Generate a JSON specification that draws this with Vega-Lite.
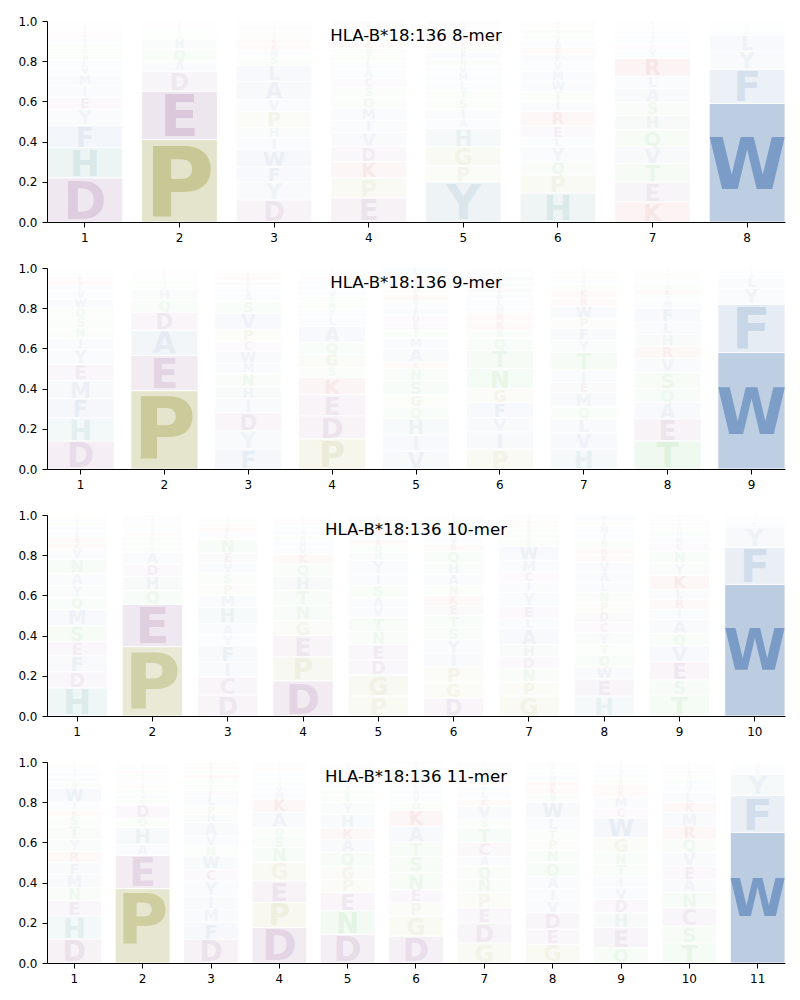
{
"$schema": "https://vega.github.io/schema/vega-lite/v6.json",
"padding": {"left": 17, "top": 15, "right": 5, "bottom": 5},
"bounds": "flush",
"spacing": 46,
"config": {
 "view": {"stroke": null},
 "axis": {"domainColor": "black", "tickColor": "black", "labelColor": "black", "labelFont": "DejaVu Sans", "labelFontSize": 12, "tickSize": 5, "labelPadding": 5, "grid": false, "domainWidth": 1, "tickWidth": 1, "zindex": 2},
 "title": {"font": "DejaVu Sans", "fontSize": 16.6, "fontWeight": "normal", "color": "black", "anchor": "middle", "frame": "group", "offset": -30, "baseline": "alphabetic"}
},
"data": {"values": [
{"n":8,"p":1,"a":"D","f":0.22},{"n":8,"p":1,"a":"H","f":0.15},{"n":8,"p":1,"a":"F","f":0.11},{"n":8,"p":1,"a":"Y","f":0.08},{"n":8,"p":1,"a":"E","f":0.06},{"n":8,"p":1,"a":"I","f":0.06},{"n":8,"p":1,"a":"M","f":0.05},{"n":8,"p":1,"a":"V","f":0.04},{"n":8,"p":1,"a":"L","f":0.035},{"n":8,"p":1,"a":"N","f":0.03},{"n":8,"p":1,"a":"S","f":0.03},{"n":8,"p":1,"a":"Q","f":0.025},{"n":8,"p":1,"a":"A","f":0.025},{"n":8,"p":1,"a":"K","f":0.02},{"n":8,"p":1,"a":"R","f":0.015},{"n":8,"p":1,"a":"T","f":0.015},{"n":8,"p":1,"a":"W","f":0.01},{"n":8,"p":1,"a":"G","f":0.01},{"n":8,"p":1,"a":"P","f":0.01},{"n":8,"p":1,"a":"C","f":0.005},
{"n":8,"p":2,"a":"P","f":0.41},{"n":8,"p":2,"a":"E","f":0.24},{"n":8,"p":2,"a":"D","f":0.10},{"n":8,"p":2,"a":"A","f":0.05},{"n":8,"p":2,"a":"Q","f":0.06},{"n":8,"p":2,"a":"H","f":0.05},{"n":8,"p":2,"a":"S","f":0.02},{"n":8,"p":2,"a":"T","f":0.015},{"n":8,"p":2,"a":"V","f":0.015},{"n":8,"p":2,"a":"L","f":0.01},{"n":8,"p":2,"a":"K","f":0.01},{"n":8,"p":2,"a":"G","f":0.01},{"n":8,"p":2,"a":"N","f":0.01},
{"n":8,"p":3,"a":"D","f":0.11},{"n":8,"p":3,"a":"Y","f":0.09},{"n":8,"p":3,"a":"F","f":0.075},{"n":8,"p":3,"a":"W","f":0.085},{"n":8,"p":3,"a":"I","f":0.06},{"n":8,"p":3,"a":"H","f":0.05},{"n":8,"p":3,"a":"P","f":0.08},{"n":8,"p":3,"a":"V","f":0.06},{"n":8,"p":3,"a":"A","f":0.09},{"n":8,"p":3,"a":"L","f":0.08},{"n":8,"p":3,"a":"S","f":0.04},{"n":8,"p":3,"a":"M","f":0.035},{"n":8,"p":3,"a":"K","f":0.03},{"n":8,"p":3,"a":"R","f":0.025},{"n":8,"p":3,"a":"Q","f":0.02},{"n":8,"p":3,"a":"G","f":0.02},{"n":8,"p":3,"a":"T","f":0.015},{"n":8,"p":3,"a":"E","f":0.015},{"n":8,"p":3,"a":"N","f":0.01},{"n":8,"p":3,"a":"C","f":0.01},
{"n":8,"p":4,"a":"E","f":0.12},{"n":8,"p":4,"a":"P","f":0.10},{"n":8,"p":4,"a":"K","f":0.08},{"n":8,"p":4,"a":"D","f":0.075},{"n":8,"p":4,"a":"V","f":0.07},{"n":8,"p":4,"a":"I","f":0.06},{"n":8,"p":4,"a":"M","f":0.06},{"n":8,"p":4,"a":"Q","f":0.055},{"n":8,"p":4,"a":"S","f":0.05},{"n":8,"p":4,"a":"C","f":0.045},{"n":8,"p":4,"a":"A","f":0.045},{"n":8,"p":4,"a":"L","f":0.04},{"n":8,"p":4,"a":"T","f":0.035},{"n":8,"p":4,"a":"N","f":0.03},{"n":8,"p":4,"a":"R","f":0.03},{"n":8,"p":4,"a":"H","f":0.025},{"n":8,"p":4,"a":"G","f":0.025},{"n":8,"p":4,"a":"Y","f":0.02},{"n":8,"p":4,"a":"F","f":0.02},{"n":8,"p":4,"a":"W","f":0.015},
{"n":8,"p":5,"a":"Y","f":0.20},{"n":8,"p":5,"a":"P","f":0.08},{"n":8,"p":5,"a":"G","f":0.095},{"n":8,"p":5,"a":"H","f":0.09},{"n":8,"p":5,"a":"A","f":0.045},{"n":8,"p":5,"a":"I","f":0.05},{"n":8,"p":5,"a":"S","f":0.05},{"n":8,"p":5,"a":"T","f":0.045},{"n":8,"p":5,"a":"L","f":0.045},{"n":8,"p":5,"a":"M","f":0.04},{"n":8,"p":5,"a":"V","f":0.035},{"n":8,"p":5,"a":"N","f":0.035},{"n":8,"p":5,"a":"F","f":0.035},{"n":8,"p":5,"a":"Q","f":0.03},{"n":8,"p":5,"a":"K","f":0.025},{"n":8,"p":5,"a":"R","f":0.025},{"n":8,"p":5,"a":"E","f":0.02},{"n":8,"p":5,"a":"D","f":0.02},{"n":8,"p":5,"a":"W","f":0.015},{"n":8,"p":5,"a":"C","f":0.02},
{"n":8,"p":6,"a":"H","f":0.145},{"n":8,"p":6,"a":"P","f":0.09},{"n":8,"p":6,"a":"Q","f":0.065},{"n":8,"p":6,"a":"Y","f":0.075},{"n":8,"p":6,"a":"L","f":0.045},{"n":8,"p":6,"a":"E","f":0.06},{"n":8,"p":6,"a":"R","f":0.07},{"n":8,"p":6,"a":"I","f":0.05},{"n":8,"p":6,"a":"T","f":0.05},{"n":8,"p":6,"a":"W","f":0.05},{"n":8,"p":6,"a":"M","f":0.05},{"n":8,"p":6,"a":"V","f":0.045},{"n":8,"p":6,"a":"F","f":0.04},{"n":8,"p":6,"a":"K","f":0.035},{"n":8,"p":6,"a":"A","f":0.035},{"n":8,"p":6,"a":"S","f":0.03},{"n":8,"p":6,"a":"N","f":0.025},{"n":8,"p":6,"a":"G","f":0.02},{"n":8,"p":6,"a":"D","f":0.015},{"n":8,"p":6,"a":"C","f":0.005},
{"n":8,"p":7,"a":"K","f":0.10},{"n":8,"p":7,"a":"E","f":0.10},{"n":8,"p":7,"a":"T","f":0.09},{"n":8,"p":7,"a":"V","f":0.085},{"n":8,"p":7,"a":"Q","f":0.085},{"n":8,"p":7,"a":"H","f":0.07},{"n":8,"p":7,"a":"S","f":0.065},{"n":8,"p":7,"a":"A","f":0.07},{"n":8,"p":7,"a":"L","f":0.06},{"n":8,"p":7,"a":"R","f":0.09},{"n":8,"p":7,"a":"Y","f":0.04},{"n":8,"p":7,"a":"C","f":0.03},{"n":8,"p":7,"a":"F","f":0.025},{"n":8,"p":7,"a":"M","f":0.02},{"n":8,"p":7,"a":"I","f":0.02},{"n":8,"p":7,"a":"N","f":0.015},{"n":8,"p":7,"a":"W","f":0.01},{"n":8,"p":7,"a":"G","f":0.01},{"n":8,"p":7,"a":"D","f":0.01},{"n":8,"p":7,"a":"P","f":0.005},
{"n":8,"p":8,"a":"W","f":0.59},{"n":8,"p":8,"a":"F","f":0.17},{"n":8,"p":8,"a":"Y","f":0.09},{"n":8,"p":8,"a":"L","f":0.08},{"n":8,"p":8,"a":"M","f":0.02},{"n":8,"p":8,"a":"I","f":0.015},{"n":8,"p":8,"a":"V","f":0.01},{"n":8,"p":8,"a":"H","f":0.01},{"n":8,"p":8,"a":"A","f":0.01},{"n":8,"p":8,"a":"C","f":0.005},
{"n":9,"p":1,"a":"D","f":0.14},{"n":9,"p":1,"a":"H","f":0.115},{"n":9,"p":1,"a":"F","f":0.095},{"n":9,"p":1,"a":"M","f":0.09},{"n":9,"p":1,"a":"E","f":0.08},{"n":9,"p":1,"a":"Y","f":0.075},{"n":9,"p":1,"a":"I","f":0.055},{"n":9,"p":1,"a":"N","f":0.05},{"n":9,"p":1,"a":"S","f":0.05},{"n":9,"p":1,"a":"Q","f":0.05},{"n":9,"p":1,"a":"W","f":0.045},{"n":9,"p":1,"a":"V","f":0.04},{"n":9,"p":1,"a":"L","f":0.03},{"n":9,"p":1,"a":"K","f":0.025},{"n":9,"p":1,"a":"R","f":0.02},{"n":9,"p":1,"a":"A","f":0.015},{"n":9,"p":1,"a":"T","f":0.01},{"n":9,"p":1,"a":"G","f":0.005},{"n":9,"p":1,"a":"P","f":0.005},{"n":9,"p":1,"a":"C","f":0.005},
{"n":9,"p":2,"a":"P","f":0.39},{"n":9,"p":2,"a":"E","f":0.175},{"n":9,"p":2,"a":"A","f":0.125},{"n":9,"p":2,"a":"D","f":0.09},{"n":9,"p":2,"a":"Q","f":0.06},{"n":9,"p":2,"a":"H","f":0.055},{"n":9,"p":2,"a":"S","f":0.02},{"n":9,"p":2,"a":"T","f":0.02},{"n":9,"p":2,"a":"V","f":0.015},{"n":9,"p":2,"a":"L","f":0.015},{"n":9,"p":2,"a":"K","f":0.01},{"n":9,"p":2,"a":"G","f":0.01},{"n":9,"p":2,"a":"N","f":0.01},{"n":9,"p":2,"a":"Y","f":0.005},
{"n":9,"p":3,"a":"F","f":0.10},{"n":9,"p":3,"a":"Y","f":0.09},{"n":9,"p":3,"a":"D","f":0.09},{"n":9,"p":3,"a":"I","f":0.07},{"n":9,"p":3,"a":"H","f":0.06},{"n":9,"p":3,"a":"N","f":0.065},{"n":9,"p":3,"a":"M","f":0.05},{"n":9,"p":3,"a":"W","f":0.06},{"n":9,"p":3,"a":"C","f":0.05},{"n":9,"p":3,"a":"P","f":0.06},{"n":9,"p":3,"a":"V","f":0.08},{"n":9,"p":3,"a":"S","f":0.06},{"n":9,"p":3,"a":"A","f":0.04},{"n":9,"p":3,"a":"L","f":0.035},{"n":9,"p":3,"a":"E","f":0.025},{"n":9,"p":3,"a":"K","f":0.025},{"n":9,"p":3,"a":"R","f":0.02},{"n":9,"p":3,"a":"G","f":0.01},{"n":9,"p":3,"a":"T","f":0.005},{"n":9,"p":3,"a":"Q","f":0.005},
{"n":9,"p":4,"a":"P","f":0.15},{"n":9,"p":4,"a":"D","f":0.115},{"n":9,"p":4,"a":"E","f":0.105},{"n":9,"p":4,"a":"K","f":0.085},{"n":9,"p":4,"a":"S","f":0.05},{"n":9,"p":4,"a":"G","f":0.065},{"n":9,"p":4,"a":"Q","f":0.06},{"n":9,"p":4,"a":"A","f":0.08},{"n":9,"p":4,"a":"L","f":0.045},{"n":9,"p":4,"a":"Y","f":0.04},{"n":9,"p":4,"a":"N","f":0.035},{"n":9,"p":4,"a":"T","f":0.03},{"n":9,"p":4,"a":"V","f":0.03},{"n":9,"p":4,"a":"H","f":0.025},{"n":9,"p":4,"a":"M","f":0.025},{"n":9,"p":4,"a":"R","f":0.02},{"n":9,"p":4,"a":"F","f":0.015},{"n":9,"p":4,"a":"I","f":0.01},{"n":9,"p":4,"a":"W","f":0.01},{"n":9,"p":4,"a":"C","f":0.005},
{"n":9,"p":5,"a":"V","f":0.09},{"n":9,"p":5,"a":"I","f":0.08},{"n":9,"p":5,"a":"H","f":0.08},{"n":9,"p":5,"a":"Q","f":0.06},{"n":9,"p":5,"a":"G","f":0.06},{"n":9,"p":5,"a":"S","f":0.07},{"n":9,"p":5,"a":"N","f":0.06},{"n":9,"p":5,"a":"K","f":0.03},{"n":9,"p":5,"a":"A","f":0.07},{"n":9,"p":5,"a":"M","f":0.05},{"n":9,"p":5,"a":"T","f":0.04},{"n":9,"p":5,"a":"E","f":0.04},{"n":9,"p":5,"a":"D","f":0.035},{"n":9,"p":5,"a":"F","f":0.035},{"n":9,"p":5,"a":"Y","f":0.035},{"n":9,"p":5,"a":"R","f":0.035},{"n":9,"p":5,"a":"P","f":0.035},{"n":9,"p":5,"a":"W","f":0.03},{"n":9,"p":5,"a":"C","f":0.025},{"n":9,"p":5,"a":"L","f":0.04},
{"n":9,"p":6,"a":"P","f":0.10},{"n":9,"p":6,"a":"I","f":0.085},{"n":9,"p":6,"a":"V","f":0.07},{"n":9,"p":6,"a":"F","f":0.075},{"n":9,"p":6,"a":"G","f":0.07},{"n":9,"p":6,"a":"N","f":0.10},{"n":9,"p":6,"a":"T","f":0.09},{"n":9,"p":6,"a":"Q","f":0.06},{"n":9,"p":6,"a":"S","f":0.04},{"n":9,"p":6,"a":"K","f":0.045},{"n":9,"p":6,"a":"R","f":0.04},{"n":9,"p":6,"a":"M","f":0.035},{"n":9,"p":6,"a":"L","f":0.035},{"n":9,"p":6,"a":"A","f":0.03},{"n":9,"p":6,"a":"E","f":0.03},{"n":9,"p":6,"a":"H","f":0.03},{"n":9,"p":6,"a":"D","f":0.025},{"n":9,"p":6,"a":"Y","f":0.02},{"n":9,"p":6,"a":"W","f":0.01},{"n":9,"p":6,"a":"C","f":0.01},
{"n":9,"p":7,"a":"H","f":0.10},{"n":9,"p":7,"a":"V","f":0.08},{"n":9,"p":7,"a":"L","f":0.07},{"n":9,"p":7,"a":"Q","f":0.06},{"n":9,"p":7,"a":"M","f":0.07},{"n":9,"p":7,"a":"E","f":0.05},{"n":9,"p":7,"a":"I","f":0.06},{"n":9,"p":7,"a":"T","f":0.09},{"n":9,"p":7,"a":"Y","f":0.06},{"n":9,"p":7,"a":"F","f":0.06},{"n":9,"p":7,"a":"P","f":0.05},{"n":9,"p":7,"a":"W","f":0.06},{"n":9,"p":7,"a":"R","f":0.04},{"n":9,"p":7,"a":"K","f":0.04},{"n":9,"p":7,"a":"S","f":0.03},{"n":9,"p":7,"a":"A","f":0.025},{"n":9,"p":7,"a":"N","f":0.02},{"n":9,"p":7,"a":"G","f":0.02},{"n":9,"p":7,"a":"D","f":0.01},{"n":9,"p":7,"a":"C","f":0.005},
{"n":9,"p":8,"a":"T","f":0.14},{"n":9,"p":8,"a":"E","f":0.11},{"n":9,"p":8,"a":"A","f":0.08},{"n":9,"p":8,"a":"Q","f":0.07},{"n":9,"p":8,"a":"S","f":0.08},{"n":9,"p":8,"a":"V","f":0.07},{"n":9,"p":8,"a":"R","f":0.06},{"n":9,"p":8,"a":"H","f":0.06},{"n":9,"p":8,"a":"L","f":0.06},{"n":9,"p":8,"a":"F","f":0.07},{"n":9,"p":8,"a":"M","f":0.035},{"n":9,"p":8,"a":"Y","f":0.03},{"n":9,"p":8,"a":"K","f":0.03},{"n":9,"p":8,"a":"N","f":0.025},{"n":9,"p":8,"a":"I","f":0.02},{"n":9,"p":8,"a":"G","f":0.02},{"n":9,"p":8,"a":"D","f":0.015},{"n":9,"p":8,"a":"P","f":0.01},{"n":9,"p":8,"a":"W","f":0.01},{"n":9,"p":8,"a":"C","f":0.005},
{"n":9,"p":9,"a":"W","f":0.58},{"n":9,"p":9,"a":"F","f":0.24},{"n":9,"p":9,"a":"Y","f":0.08},{"n":9,"p":9,"a":"L","f":0.05},{"n":9,"p":9,"a":"M","f":0.02},{"n":9,"p":9,"a":"I","f":0.015},{"n":9,"p":9,"a":"V","f":0.01},{"n":9,"p":9,"a":"H","f":0.005},
{"n":10,"p":1,"a":"H","f":0.14},{"n":10,"p":1,"a":"D","f":0.08},{"n":10,"p":1,"a":"F","f":0.08},{"n":10,"p":1,"a":"E","f":0.07},{"n":10,"p":1,"a":"S","f":0.08},{"n":10,"p":1,"a":"M","f":0.08},{"n":10,"p":1,"a":"Q","f":0.06},{"n":10,"p":1,"a":"Y","f":0.06},{"n":10,"p":1,"a":"A","f":0.06},{"n":10,"p":1,"a":"N","f":0.07},{"n":10,"p":1,"a":"V","f":0.05},{"n":10,"p":1,"a":"K","f":0.03},{"n":10,"p":1,"a":"R","f":0.03},{"n":10,"p":1,"a":"L","f":0.03},{"n":10,"p":1,"a":"I","f":0.025},{"n":10,"p":1,"a":"T","f":0.02},{"n":10,"p":1,"a":"W","f":0.015},{"n":10,"p":1,"a":"G","f":0.01},{"n":10,"p":1,"a":"P","f":0.01},
{"n":10,"p":2,"a":"P","f":0.345},{"n":10,"p":2,"a":"E","f":0.21},{"n":10,"p":2,"a":"Q","f":0.07},{"n":10,"p":2,"a":"H","f":0.07},{"n":10,"p":2,"a":"D","f":0.06},{"n":10,"p":2,"a":"A","f":0.06},{"n":10,"p":2,"a":"S","f":0.03},{"n":10,"p":2,"a":"T","f":0.025},{"n":10,"p":2,"a":"N","f":0.025},{"n":10,"p":2,"a":"K","f":0.02},{"n":10,"p":2,"a":"V","f":0.02},{"n":10,"p":2,"a":"G","f":0.02},{"n":10,"p":2,"a":"L","f":0.015},{"n":10,"p":2,"a":"R","f":0.015},{"n":10,"p":2,"a":"Y","f":0.015},
{"n":10,"p":3,"a":"D","f":0.105},{"n":10,"p":3,"a":"C","f":0.09},{"n":10,"p":3,"a":"I","f":0.075},{"n":10,"p":3,"a":"F","f":0.08},{"n":10,"p":3,"a":"Y","f":0.055},{"n":10,"p":3,"a":"A","f":0.055},{"n":10,"p":3,"a":"H","f":0.08},{"n":10,"p":3,"a":"M","f":0.06},{"n":10,"p":3,"a":"P","f":0.055},{"n":10,"p":3,"a":"S","f":0.055},{"n":10,"p":3,"a":"V","f":0.05},{"n":10,"p":3,"a":"E","f":0.05},{"n":10,"p":3,"a":"N","f":0.07},{"n":10,"p":3,"a":"L","f":0.035},{"n":10,"p":3,"a":"K","f":0.025},{"n":10,"p":3,"a":"R","f":0.02},{"n":10,"p":3,"a":"T","f":0.02},{"n":10,"p":3,"a":"G","f":0.01},{"n":10,"p":3,"a":"Q","f":0.005},{"n":10,"p":3,"a":"W","f":0.005},
{"n":10,"p":4,"a":"D","f":0.175},{"n":10,"p":4,"a":"P","f":0.12},{"n":10,"p":4,"a":"E","f":0.105},{"n":10,"p":4,"a":"G","f":0.075},{"n":10,"p":4,"a":"N","f":0.075},{"n":10,"p":4,"a":"T","f":0.075},{"n":10,"p":4,"a":"H","f":0.07},{"n":10,"p":4,"a":"Q","f":0.06},{"n":10,"p":4,"a":"K","f":0.05},{"n":10,"p":4,"a":"V","f":0.035},{"n":10,"p":4,"a":"M","f":0.03},{"n":10,"p":4,"a":"S","f":0.03},{"n":10,"p":4,"a":"A","f":0.025},{"n":10,"p":4,"a":"L","f":0.02},{"n":10,"p":4,"a":"Y","f":0.02},{"n":10,"p":4,"a":"R","f":0.015},{"n":10,"p":4,"a":"I","f":0.01},{"n":10,"p":4,"a":"F","f":0.005},{"n":10,"p":4,"a":"W","f":0.005},
{"n":10,"p":5,"a":"P","f":0.10},{"n":10,"p":5,"a":"G","f":0.105},{"n":10,"p":5,"a":"D","f":0.075},{"n":10,"p":5,"a":"E","f":0.075},{"n":10,"p":5,"a":"N","f":0.065},{"n":10,"p":5,"a":"T","f":0.07},{"n":10,"p":5,"a":"V","f":0.05},{"n":10,"p":5,"a":"A","f":0.05},{"n":10,"p":5,"a":"S","f":0.06},{"n":10,"p":5,"a":"I","f":0.055},{"n":10,"p":5,"a":"Y","f":0.07},{"n":10,"p":5,"a":"H","f":0.04},{"n":10,"p":5,"a":"Q","f":0.035},{"n":10,"p":5,"a":"K","f":0.03},{"n":10,"p":5,"a":"L","f":0.03},{"n":10,"p":5,"a":"R","f":0.025},{"n":10,"p":5,"a":"M","f":0.02},{"n":10,"p":5,"a":"F","f":0.02},{"n":10,"p":5,"a":"W","f":0.015},{"n":10,"p":5,"a":"C","f":0.01},
{"n":10,"p":6,"a":"D","f":0.09},{"n":10,"p":6,"a":"G","f":0.075},{"n":10,"p":6,"a":"P","f":0.08},{"n":10,"p":6,"a":"I","f":0.065},{"n":10,"p":6,"a":"Y","f":0.07},{"n":10,"p":6,"a":"S","f":0.06},{"n":10,"p":6,"a":"T","f":0.06},{"n":10,"p":6,"a":"E","f":0.05},{"n":10,"p":6,"a":"K","f":0.05},{"n":10,"p":6,"a":"N","f":0.05},{"n":10,"p":6,"a":"A","f":0.055},{"n":10,"p":6,"a":"H","f":0.055},{"n":10,"p":6,"a":"Q","f":0.06},{"n":10,"p":6,"a":"R","f":0.035},{"n":10,"p":6,"a":"V","f":0.035},{"n":10,"p":6,"a":"L","f":0.03},{"n":10,"p":6,"a":"M","f":0.03},{"n":10,"p":6,"a":"F","f":0.025},{"n":10,"p":6,"a":"W","f":0.015},{"n":10,"p":6,"a":"C","f":0.01},
{"n":10,"p":7,"a":"G","f":0.10},{"n":10,"p":7,"a":"P","f":0.07},{"n":10,"p":7,"a":"N","f":0.065},{"n":10,"p":7,"a":"D","f":0.06},{"n":10,"p":7,"a":"H","f":0.06},{"n":10,"p":7,"a":"A","f":0.08},{"n":10,"p":7,"a":"L","f":0.05},{"n":10,"p":7,"a":"E","f":0.06},{"n":10,"p":7,"a":"Y","f":0.07},{"n":10,"p":7,"a":"I","f":0.05},{"n":10,"p":7,"a":"C","f":0.05},{"n":10,"p":7,"a":"M","f":0.06},{"n":10,"p":7,"a":"W","f":0.07},{"n":10,"p":7,"a":"S","f":0.035},{"n":10,"p":7,"a":"T","f":0.03},{"n":10,"p":7,"a":"Q","f":0.025},{"n":10,"p":7,"a":"K","f":0.02},{"n":10,"p":7,"a":"R","f":0.02},{"n":10,"p":7,"a":"V","f":0.015},{"n":10,"p":7,"a":"F","f":0.01},
{"n":10,"p":8,"a":"H","f":0.10},{"n":10,"p":8,"a":"E","f":0.085},{"n":10,"p":8,"a":"W","f":0.06},{"n":10,"p":8,"a":"Q","f":0.06},{"n":10,"p":8,"a":"T","f":0.05},{"n":10,"p":8,"a":"Y","f":0.06},{"n":10,"p":8,"a":"C","f":0.05},{"n":10,"p":8,"a":"D","f":0.05},{"n":10,"p":8,"a":"P","f":0.05},{"n":10,"p":8,"a":"N","f":0.05},{"n":10,"p":8,"a":"L","f":0.05},{"n":10,"p":8,"a":"A","f":0.05},{"n":10,"p":8,"a":"V","f":0.05},{"n":10,"p":8,"a":"K","f":0.035},{"n":10,"p":8,"a":"R","f":0.035},{"n":10,"p":8,"a":"S","f":0.04},{"n":10,"p":8,"a":"I","f":0.035},{"n":10,"p":8,"a":"M","f":0.035},{"n":10,"p":8,"a":"G","f":0.025},{"n":10,"p":8,"a":"F","f":0.03},
{"n":10,"p":9,"a":"T","f":0.105},{"n":10,"p":9,"a":"S","f":0.075},{"n":10,"p":9,"a":"E","f":0.09},{"n":10,"p":9,"a":"V","f":0.08},{"n":10,"p":9,"a":"Q","f":0.06},{"n":10,"p":9,"a":"A","f":0.07},{"n":10,"p":9,"a":"I","f":0.05},{"n":10,"p":9,"a":"R","f":0.05},{"n":10,"p":9,"a":"L","f":0.05},{"n":10,"p":9,"a":"K","f":0.07},{"n":10,"p":9,"a":"Y","f":0.06},{"n":10,"p":9,"a":"N","f":0.06},{"n":10,"p":9,"a":"C","f":0.04},{"n":10,"p":9,"a":"M","f":0.03},{"n":10,"p":9,"a":"H","f":0.03},{"n":10,"p":9,"a":"G","f":0.025},{"n":10,"p":9,"a":"D","f":0.02},{"n":10,"p":9,"a":"F","f":0.015},{"n":10,"p":9,"a":"P","f":0.01},{"n":10,"p":9,"a":"W","f":0.01},
{"n":10,"p":10,"a":"W","f":0.655},{"n":10,"p":10,"a":"F","f":0.185},{"n":10,"p":10,"a":"Y","f":0.10},{"n":10,"p":10,"a":"L","f":0.03},{"n":10,"p":10,"a":"M","f":0.015},{"n":10,"p":10,"a":"I","f":0.01},{"n":10,"p":10,"a":"V","f":0.005},
{"n":11,"p":1,"a":"D","f":0.12},{"n":11,"p":1,"a":"H","f":0.115},{"n":11,"p":1,"a":"E","f":0.075},{"n":11,"p":1,"a":"N","f":0.065},{"n":11,"p":1,"a":"M","f":0.065},{"n":11,"p":1,"a":"F","f":0.06},{"n":11,"p":1,"a":"R","f":0.055},{"n":11,"p":1,"a":"Y","f":0.06},{"n":11,"p":1,"a":"T","f":0.065},{"n":11,"p":1,"a":"S","f":0.05},{"n":11,"p":1,"a":"K","f":0.03},{"n":11,"p":1,"a":"I","f":0.04},{"n":11,"p":1,"a":"W","f":0.07},{"n":11,"p":1,"a":"Q","f":0.03},{"n":11,"p":1,"a":"L","f":0.025},{"n":11,"p":1,"a":"V","f":0.025},{"n":11,"p":1,"a":"A","f":0.02},{"n":11,"p":1,"a":"G","f":0.015},{"n":11,"p":1,"a":"P","f":0.01},{"n":11,"p":1,"a":"C","f":0.005},
{"n":11,"p":2,"a":"P","f":0.37},{"n":11,"p":2,"a":"E","f":0.165},{"n":11,"p":2,"a":"A","f":0.055},{"n":11,"p":2,"a":"H","f":0.085},{"n":11,"p":2,"a":"Q","f":0.045},{"n":11,"p":2,"a":"D","f":0.065},{"n":11,"p":2,"a":"S","f":0.03},{"n":11,"p":2,"a":"V","f":0.025},{"n":11,"p":2,"a":"T","f":0.025},{"n":11,"p":2,"a":"K","f":0.02},{"n":11,"p":2,"a":"L","f":0.02},{"n":11,"p":2,"a":"G","f":0.02},{"n":11,"p":2,"a":"N","f":0.02},{"n":11,"p":2,"a":"R","f":0.015},{"n":11,"p":2,"a":"Y","f":0.015},{"n":11,"p":2,"a":"M","f":0.01},{"n":11,"p":2,"a":"I","f":0.01},{"n":11,"p":2,"a":"F","f":0.005},
{"n":11,"p":3,"a":"D","f":0.118},{"n":11,"p":3,"a":"F","f":0.083},{"n":11,"p":3,"a":"M","f":0.066},{"n":11,"p":3,"a":"I","f":0.066},{"n":11,"p":3,"a":"Y","f":0.075},{"n":11,"p":3,"a":"C","f":0.058},{"n":11,"p":3,"a":"W","f":0.066},{"n":11,"p":3,"a":"N","f":0.05},{"n":11,"p":3,"a":"V","f":0.05},{"n":11,"p":3,"a":"A","f":0.066},{"n":11,"p":3,"a":"H","f":0.041},{"n":11,"p":3,"a":"P","f":0.041},{"n":11,"p":3,"a":"L","f":0.05},{"n":11,"p":3,"a":"E","f":0.03},{"n":11,"p":3,"a":"S","f":0.03},{"n":11,"p":3,"a":"Q","f":0.025},{"n":11,"p":3,"a":"K","f":0.025},{"n":11,"p":3,"a":"T","f":0.02},{"n":11,"p":3,"a":"R","f":0.02},{"n":11,"p":3,"a":"G","f":0.02},
{"n":11,"p":4,"a":"D","f":0.177},{"n":11,"p":4,"a":"P","f":0.124},{"n":11,"p":4,"a":"E","f":0.108},{"n":11,"p":4,"a":"G","f":0.092},{"n":11,"p":4,"a":"N","f":0.074},{"n":11,"p":4,"a":"S","f":0.058},{"n":11,"p":4,"a":"Q","f":0.041},{"n":11,"p":4,"a":"A","f":0.075},{"n":11,"p":4,"a":"K","f":0.066},{"n":11,"p":4,"a":"M","f":0.035},{"n":11,"p":4,"a":"V","f":0.03},{"n":11,"p":4,"a":"T","f":0.025},{"n":11,"p":4,"a":"H","f":0.02},{"n":11,"p":4,"a":"L","f":0.02},{"n":11,"p":4,"a":"Y","f":0.015},{"n":11,"p":4,"a":"R","f":0.015},{"n":11,"p":4,"a":"I","f":0.01},{"n":11,"p":4,"a":"F","f":0.01},{"n":11,"p":4,"a":"W","f":0.005},
{"n":11,"p":5,"a":"D","f":0.143},{"n":11,"p":5,"a":"N","f":0.117},{"n":11,"p":5,"a":"E","f":0.09},{"n":11,"p":5,"a":"P","f":0.066},{"n":11,"p":5,"a":"G","f":0.064},{"n":11,"p":5,"a":"Q","f":0.07},{"n":11,"p":5,"a":"A","f":0.065},{"n":11,"p":5,"a":"K","f":0.058},{"n":11,"p":5,"a":"H","f":0.067},{"n":11,"p":5,"a":"Y","f":0.06},{"n":11,"p":5,"a":"T","f":0.035},{"n":11,"p":5,"a":"S","f":0.03},{"n":11,"p":5,"a":"V","f":0.025},{"n":11,"p":5,"a":"L","f":0.025},{"n":11,"p":5,"a":"M","f":0.02},{"n":11,"p":5,"a":"R","f":0.02},{"n":11,"p":5,"a":"I","f":0.015},{"n":11,"p":5,"a":"F","f":0.015},{"n":11,"p":5,"a":"W","f":0.01},{"n":11,"p":5,"a":"C","f":0.005},
{"n":11,"p":6,"a":"D","f":0.134},{"n":11,"p":6,"a":"G","f":0.10},{"n":11,"p":6,"a":"P","f":0.066},{"n":11,"p":6,"a":"E","f":0.066},{"n":11,"p":6,"a":"N","f":0.084},{"n":11,"p":6,"a":"S","f":0.08},{"n":11,"p":6,"a":"T","f":0.07},{"n":11,"p":6,"a":"A","f":0.08},{"n":11,"p":6,"a":"K","f":0.08},{"n":11,"p":6,"a":"Q","f":0.04},{"n":11,"p":6,"a":"V","f":0.035},{"n":11,"p":6,"a":"H","f":0.03},{"n":11,"p":6,"a":"L","f":0.03},{"n":11,"p":6,"a":"R","f":0.025},{"n":11,"p":6,"a":"Y","f":0.025},{"n":11,"p":6,"a":"M","f":0.02},{"n":11,"p":6,"a":"I","f":0.015},{"n":11,"p":6,"a":"F","f":0.01},{"n":11,"p":6,"a":"W","f":0.01},
{"n":11,"p":7,"a":"G","f":0.10},{"n":11,"p":7,"a":"D","f":0.10},{"n":11,"p":7,"a":"E","f":0.075},{"n":11,"p":7,"a":"P","f":0.075},{"n":11,"p":7,"a":"N","f":0.066},{"n":11,"p":7,"a":"Q","f":0.064},{"n":11,"p":7,"a":"A","f":0.05},{"n":11,"p":7,"a":"C","f":0.07},{"n":11,"p":7,"a":"T","f":0.073},{"n":11,"p":7,"a":"S","f":0.042},{"n":11,"p":7,"a":"V","f":0.065},{"n":11,"p":7,"a":"K","f":0.035},{"n":11,"p":7,"a":"L","f":0.04},{"n":11,"p":7,"a":"I","f":0.03},{"n":11,"p":7,"a":"R","f":0.03},{"n":11,"p":7,"a":"H","f":0.025},{"n":11,"p":7,"a":"Y","f":0.02},{"n":11,"p":7,"a":"M","f":0.015},{"n":11,"p":7,"a":"F","f":0.015},{"n":11,"p":7,"a":"W","f":0.01},
{"n":11,"p":8,"a":"G","f":0.093},{"n":11,"p":8,"a":"E","f":0.075},{"n":11,"p":8,"a":"D","f":0.082},{"n":11,"p":8,"a":"V","f":0.06},{"n":11,"p":8,"a":"I","f":0.06},{"n":11,"p":8,"a":"A","f":0.06},{"n":11,"p":8,"a":"Q","f":0.07},{"n":11,"p":8,"a":"N","f":0.06},{"n":11,"p":8,"a":"P","f":0.05},{"n":11,"p":8,"a":"T","f":0.05},{"n":11,"p":8,"a":"L","f":0.06},{"n":11,"p":8,"a":"W","f":0.08},{"n":11,"p":8,"a":"S","f":0.04},{"n":11,"p":8,"a":"K","f":0.035},{"n":11,"p":8,"a":"R","f":0.03},{"n":11,"p":8,"a":"M","f":0.03},{"n":11,"p":8,"a":"Y","f":0.025},{"n":11,"p":8,"a":"H","f":0.02},{"n":11,"p":8,"a":"F","f":0.015},{"n":11,"p":8,"a":"C","f":0.005},
{"n":11,"p":9,"a":"Q","f":0.076},{"n":11,"p":9,"a":"E","f":0.10},{"n":11,"p":9,"a":"H","f":0.074},{"n":11,"p":9,"a":"D","f":0.067},{"n":11,"p":9,"a":"V","f":0.058},{"n":11,"p":9,"a":"I","f":0.057},{"n":11,"p":9,"a":"T","f":0.06},{"n":11,"p":9,"a":"N","f":0.057},{"n":11,"p":9,"a":"G","f":0.075},{"n":11,"p":9,"a":"W","f":0.098},{"n":11,"p":9,"a":"C","f":0.048},{"n":11,"p":9,"a":"M","f":0.055},{"n":11,"p":9,"a":"K","f":0.035},{"n":11,"p":9,"a":"R","f":0.03},{"n":11,"p":9,"a":"S","f":0.03},{"n":11,"p":9,"a":"L","f":0.025},{"n":11,"p":9,"a":"A","f":0.02},{"n":11,"p":9,"a":"Y","f":0.015},{"n":11,"p":9,"a":"F","f":0.01},{"n":11,"p":9,"a":"P","f":0.01},
{"n":11,"p":10,"a":"T","f":0.10},{"n":11,"p":10,"a":"S","f":0.084},{"n":11,"p":10,"a":"C","f":0.091},{"n":11,"p":10,"a":"N","f":0.075},{"n":11,"p":10,"a":"A","f":0.066},{"n":11,"p":10,"a":"E","f":0.064},{"n":11,"p":10,"a":"V","f":0.07},{"n":11,"p":10,"a":"Q","f":0.065},{"n":11,"p":10,"a":"R","f":0.065},{"n":11,"p":10,"a":"M","f":0.068},{"n":11,"p":10,"a":"K","f":0.05},{"n":11,"p":10,"a":"L","f":0.052},{"n":11,"p":10,"a":"Y","f":0.035},{"n":11,"p":10,"a":"H","f":0.03},{"n":11,"p":10,"a":"G","f":0.025},{"n":11,"p":10,"a":"D","f":0.02},{"n":11,"p":10,"a":"I","f":0.015},{"n":11,"p":10,"a":"F","f":0.01},{"n":11,"p":10,"a":"P","f":0.01},{"n":11,"p":10,"a":"W","f":0.005},
{"n":11,"p":11,"a":"W","f":0.65},{"n":11,"p":11,"a":"F","f":0.183},{"n":11,"p":11,"a":"Y","f":0.107},{"n":11,"p":11,"a":"L","f":0.03},{"n":11,"p":11,"a":"M","f":0.015},{"n":11,"p":11,"a":"I","f":0.01},{"n":11,"p":11,"a":"V","f":0.005}
]},
"vconcat": [
{
 "width": 738, "height": 201,
 "title": "HLA-B*18:136 8-mer",
 "transform": [{"filter": "datum.n == 8"}, {"stack": "f", "groupby": ["p"], "as": ["y0", "y1"]}],
 "encoding": {
  "x": {"field": "p", "type": "ordinal", "scale": {"paddingInner": 0.2, "paddingOuter": 0}, "axis": {"labelAngle": 0, "title": null, "zindex": 2}},
  "y": {"field": "y1", "type": "quantitative", "scale": {"domain": [0, 1]}, "axis": {"values": [0, 0.2, 0.4, 0.6, 0.8, 1], "format": ".1f", "title": null, "zindex": 2}},
  "color": {"field": "a", "type": "nominal", "legend": null, "scale": {"domain": ["A","C","D","E","F","G","H","I","K","L","M","N","P","Q","R","S","T","V","W","Y"], "range": ["#6a8ab8","#9a5a90","#8c508c","#8c508c","#4e7bb3","#a3a350","#529696","#6a8ab8","#cd3e3e","#6a8ab8","#6a8ab8","#5abe5a","#a3a350","#5abe5a","#cd3e3e","#5abe5a","#5abe5a","#6a8ab8","#4e7bb3","#7aa0b8"]}}
 },
 "layer": [
  {"mark": {"type": "bar", "stroke": "white", "strokeWidth": 0.8},
   "encoding": {"y2": {"field": "y0"}, "fillOpacity": {"field": "f", "type": "quantitative", "legend": null, "scale": {"domain": [0, 0.05, 0.1, 0.15, 0.25, 0.4, 0.6], "range": [0.015, 0.03, 0.06, 0.1, 0.15, 0.29, 0.375], "clamp": true}}}},
  {"transform": [{"filter": "!(datum.a == 'W' && datum.f >= 0.3)"}],
   "mark": {"type": "text", "font": "DejaVu Sans", "fontWeight": "bold", "align": "center", "baseline": "top"},
   "encoding": {"text": {"field": "a"}, "size": {"field": "f", "type": "quantitative", "legend": null, "scale": {"domain": [0, 0.405], "range": [0, 96], "clamp": true}}, "opacity": {"field": "f", "type": "quantitative", "legend": null, "scale": {"domain": [0, 0.05, 0.1, 0.15, 0.25, 0.4, 0.6], "range": [0.03, 0.05, 0.075, 0.12, 0.19, 0.41, 0.6], "clamp": true}}}},
  {"transform": [{"filter": "datum.a == 'W' && datum.f >= 0.3"}],
   "mark": {"type": "text", "font": "DejaVu Sans", "fontWeight": "bold", "align": "center", "baseline": "top", "dy": 29},
   "encoding": {"text": {"field": "a"}, "size": {"field": "f", "type": "quantitative", "legend": null, "scale": {"domain": [0, 0.304], "range": [0, 72], "clamp": true}}, "opacity": {"field": "f", "type": "quantitative", "legend": null, "scale": {"domain": [0, 0.05, 0.1, 0.15, 0.25, 0.4, 0.6], "range": [0.03, 0.05, 0.075, 0.12, 0.19, 0.41, 0.6], "clamp": true}}}}
 ],
 "resolve": {"scale": {"size": "independent", "opacity": "independent"}}
},
{
 "width": 738, "height": 201,
 "title": "HLA-B*18:136 9-mer",
 "transform": [{"filter": "datum.n == 9"}, {"stack": "f", "groupby": ["p"], "as": ["y0", "y1"]}],
 "encoding": {
  "x": {"field": "p", "type": "ordinal", "scale": {"paddingInner": 0.2, "paddingOuter": 0}, "axis": {"labelAngle": 0, "title": null, "zindex": 2}},
  "y": {"field": "y1", "type": "quantitative", "scale": {"domain": [0, 1]}, "axis": {"values": [0, 0.2, 0.4, 0.6, 0.8, 1], "format": ".1f", "title": null, "zindex": 2}},
  "color": {"field": "a", "type": "nominal", "legend": null, "scale": {"domain": ["A","C","D","E","F","G","H","I","K","L","M","N","P","Q","R","S","T","V","W","Y"], "range": ["#6a8ab8","#9a5a90","#8c508c","#8c508c","#4e7bb3","#a3a350","#529696","#6a8ab8","#cd3e3e","#6a8ab8","#6a8ab8","#5abe5a","#a3a350","#5abe5a","#cd3e3e","#5abe5a","#5abe5a","#6a8ab8","#4e7bb3","#7aa0b8"]}}
 },
 "layer": [
  {"mark": {"type": "bar", "stroke": "white", "strokeWidth": 0.8},
   "encoding": {"y2": {"field": "y0"}, "fillOpacity": {"field": "f", "type": "quantitative", "legend": null, "scale": {"domain": [0, 0.05, 0.1, 0.15, 0.25, 0.4, 0.6], "range": [0.015, 0.03, 0.06, 0.1, 0.15, 0.29, 0.375], "clamp": true}}}},
  {"transform": [{"filter": "!(datum.a == 'W' && datum.f >= 0.3)"}],
   "mark": {"type": "text", "font": "DejaVu Sans", "fontWeight": "bold", "align": "center", "baseline": "top"},
   "encoding": {"text": {"field": "a"}, "size": {"field": "f", "type": "quantitative", "legend": null, "scale": {"domain": [0, 0.363], "range": [0, 86], "clamp": true}}, "opacity": {"field": "f", "type": "quantitative", "legend": null, "scale": {"domain": [0, 0.05, 0.1, 0.15, 0.25, 0.4, 0.6], "range": [0.03, 0.05, 0.075, 0.12, 0.19, 0.41, 0.6], "clamp": true}}}},
  {"transform": [{"filter": "datum.a == 'W' && datum.f >= 0.3"}],
   "mark": {"type": "text", "font": "DejaVu Sans", "fontWeight": "bold", "align": "center", "baseline": "top", "dy": 31},
   "encoding": {"text": {"field": "a"}, "size": {"field": "f", "type": "quantitative", "legend": null, "scale": {"domain": [0, 0.27], "range": [0, 64], "clamp": true}}, "opacity": {"field": "f", "type": "quantitative", "legend": null, "scale": {"domain": [0, 0.05, 0.1, 0.15, 0.25, 0.4, 0.6], "range": [0.03, 0.05, 0.075, 0.12, 0.19, 0.41, 0.6], "clamp": true}}}}
 ],
 "resolve": {"scale": {"size": "independent", "opacity": "independent"}}
},
{
 "width": 738, "height": 201,
 "title": "HLA-B*18:136 10-mer",
 "transform": [{"filter": "datum.n == 10"}, {"stack": "f", "groupby": ["p"], "as": ["y0", "y1"]}],
 "encoding": {
  "x": {"field": "p", "type": "ordinal", "scale": {"paddingInner": 0.2, "paddingOuter": 0}, "axis": {"labelAngle": 0, "title": null, "zindex": 2}},
  "y": {"field": "y1", "type": "quantitative", "scale": {"domain": [0, 1]}, "axis": {"values": [0, 0.2, 0.4, 0.6, 0.8, 1], "format": ".1f", "title": null, "zindex": 2}},
  "color": {"field": "a", "type": "nominal", "legend": null, "scale": {"domain": ["A","C","D","E","F","G","H","I","K","L","M","N","P","Q","R","S","T","V","W","Y"], "range": ["#6a8ab8","#9a5a90","#8c508c","#8c508c","#4e7bb3","#a3a350","#529696","#6a8ab8","#cd3e3e","#6a8ab8","#6a8ab8","#5abe5a","#a3a350","#5abe5a","#cd3e3e","#5abe5a","#5abe5a","#6a8ab8","#4e7bb3","#7aa0b8"]}}
 },
 "layer": [
  {"mark": {"type": "bar", "stroke": "white", "strokeWidth": 0.8},
   "encoding": {"y2": {"field": "y0"}, "fillOpacity": {"field": "f", "type": "quantitative", "legend": null, "scale": {"domain": [0, 0.05, 0.1, 0.15, 0.25, 0.4, 0.6], "range": [0.015, 0.03, 0.06, 0.1, 0.15, 0.29, 0.375], "clamp": true}}}},
  {"transform": [{"filter": "!(datum.a == 'W' && datum.f >= 0.3)"}],
   "mark": {"type": "text", "font": "DejaVu Sans", "fontWeight": "bold", "align": "center", "baseline": "top"},
   "encoding": {"text": {"field": "a"}, "size": {"field": "f", "type": "quantitative", "legend": null, "scale": {"domain": [0, 0.325], "range": [0, 77], "clamp": true}}, "opacity": {"field": "f", "type": "quantitative", "legend": null, "scale": {"domain": [0, 0.05, 0.1, 0.15, 0.25, 0.4, 0.6], "range": [0.03, 0.05, 0.075, 0.12, 0.19, 0.41, 0.6], "clamp": true}}}},
  {"transform": [{"filter": "datum.a == 'W' && datum.f >= 0.3"}],
   "mark": {"type": "text", "font": "DejaVu Sans", "fontWeight": "bold", "align": "center", "baseline": "top", "dy": 41},
   "encoding": {"text": {"field": "a"}, "size": {"field": "f", "type": "quantitative", "legend": null, "scale": {"domain": [0, 0.24], "range": [0, 57], "clamp": true}}, "opacity": {"field": "f", "type": "quantitative", "legend": null, "scale": {"domain": [0, 0.05, 0.1, 0.15, 0.25, 0.4, 0.6], "range": [0.03, 0.05, 0.075, 0.12, 0.19, 0.41, 0.6], "clamp": true}}}}
 ],
 "resolve": {"scale": {"size": "independent", "opacity": "independent"}}
},
{
 "width": 738, "height": 201,
 "title": "HLA-B*18:136 11-mer",
 "transform": [{"filter": "datum.n == 11"}, {"stack": "f", "groupby": ["p"], "as": ["y0", "y1"]}],
 "encoding": {
  "x": {"field": "p", "type": "ordinal", "scale": {"paddingInner": 0.2, "paddingOuter": 0}, "axis": {"labelAngle": 0, "title": null, "zindex": 2}},
  "y": {"field": "y1", "type": "quantitative", "scale": {"domain": [0, 1]}, "axis": {"values": [0, 0.2, 0.4, 0.6, 0.8, 1], "format": ".1f", "title": null, "zindex": 2}},
  "color": {"field": "a", "type": "nominal", "legend": null, "scale": {"domain": ["A","C","D","E","F","G","H","I","K","L","M","N","P","Q","R","S","T","V","W","Y"], "range": ["#6a8ab8","#9a5a90","#8c508c","#8c508c","#4e7bb3","#a3a350","#529696","#6a8ab8","#cd3e3e","#6a8ab8","#6a8ab8","#5abe5a","#a3a350","#5abe5a","#cd3e3e","#5abe5a","#5abe5a","#6a8ab8","#4e7bb3","#7aa0b8"]}}
 },
 "layer": [
  {"mark": {"type": "bar", "stroke": "white", "strokeWidth": 0.8},
   "encoding": {"y2": {"field": "y0"}, "fillOpacity": {"field": "f", "type": "quantitative", "legend": null, "scale": {"domain": [0, 0.05, 0.1, 0.15, 0.25, 0.4, 0.6], "range": [0.015, 0.03, 0.06, 0.1, 0.15, 0.29, 0.375], "clamp": true}}}},
  {"transform": [{"filter": "!(datum.a == 'W' && datum.f >= 0.3)"}],
   "mark": {"type": "text", "font": "DejaVu Sans", "fontWeight": "bold", "align": "center", "baseline": "top"},
   "encoding": {"text": {"field": "a"}, "size": {"field": "f", "type": "quantitative", "legend": null, "scale": {"domain": [0, 0.295], "range": [0, 70], "clamp": true}}, "opacity": {"field": "f", "type": "quantitative", "legend": null, "scale": {"domain": [0, 0.05, 0.1, 0.15, 0.25, 0.4, 0.6], "range": [0.03, 0.05, 0.075, 0.12, 0.19, 0.41, 0.6], "clamp": true}}}},
  {"transform": [{"filter": "datum.a == 'W' && datum.f >= 0.3"}],
   "mark": {"type": "text", "font": "DejaVu Sans", "fontWeight": "bold", "align": "center", "baseline": "top", "dy": 43},
   "encoding": {"text": {"field": "a"}, "size": {"field": "f", "type": "quantitative", "legend": null, "scale": {"domain": [0, 0.22], "range": [0, 52], "clamp": true}}, "opacity": {"field": "f", "type": "quantitative", "legend": null, "scale": {"domain": [0, 0.05, 0.1, 0.15, 0.25, 0.4, 0.6], "range": [0.03, 0.05, 0.075, 0.12, 0.19, 0.41, 0.6], "clamp": true}}}}
 ],
 "resolve": {"scale": {"size": "independent", "opacity": "independent"}}
}
]
}
